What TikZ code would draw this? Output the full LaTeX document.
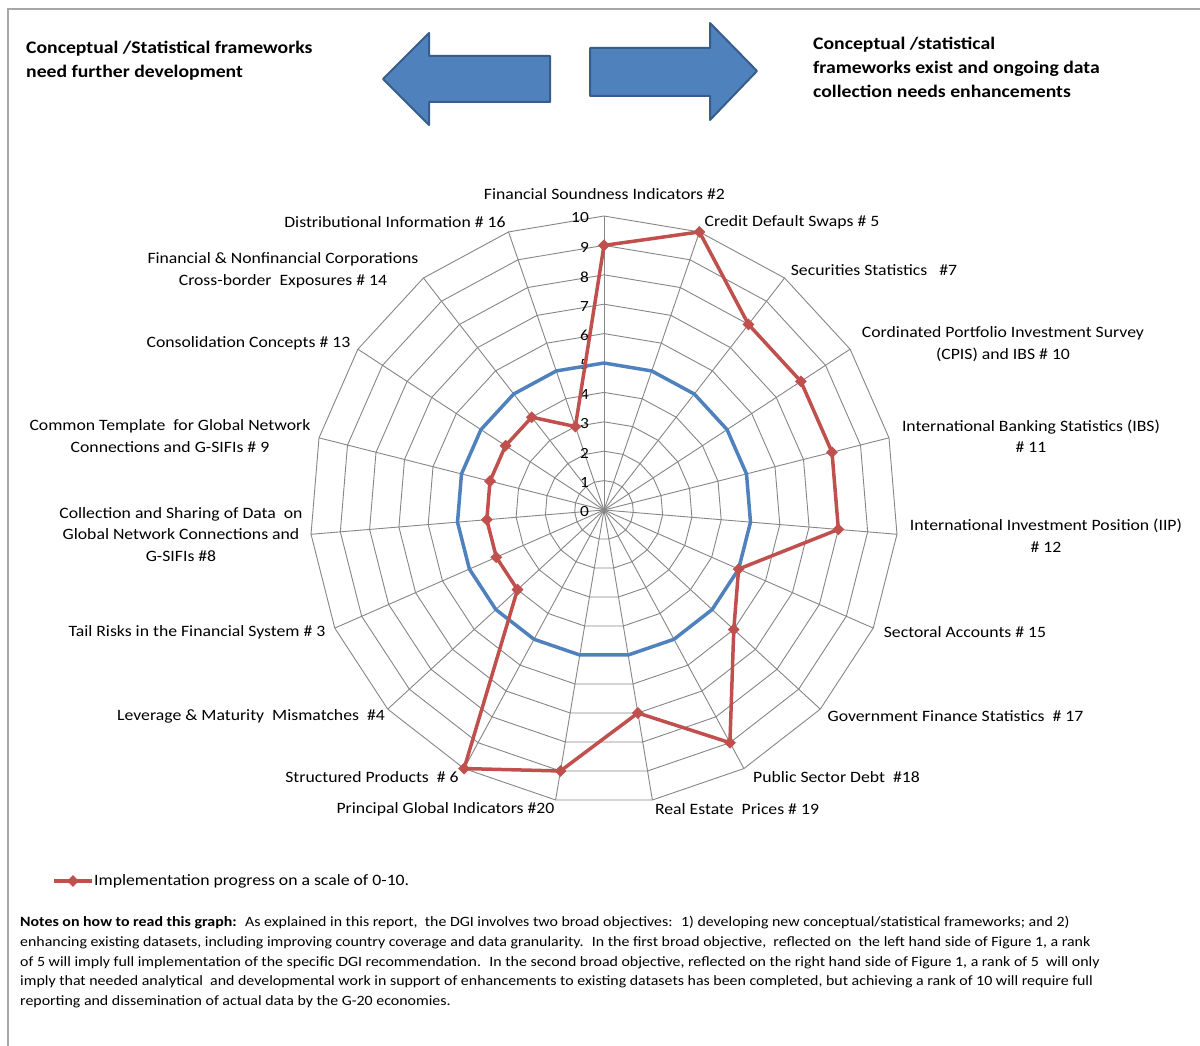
\documentclass[tikz,border=0pt]{standalone}
\usepackage{fontspec}
\setmainfont{Carlito}[FakeStretch=1.12]
\usetikzlibrary{shapes.geometric}
\definecolor{gridgray}{HTML}{868686}
\definecolor{redline}{HTML}{C0504D}
\definecolor{blueline}{HTML}{4F81BD}
\definecolor{arrowfill}{HTML}{4F81BD}
\definecolor{arrowdraw}{HTML}{385D8A}
\definecolor{framegray}{HTML}{A6A6A6}
\begin{document}
\begin{tikzpicture}[x=1pt,y=-1pt,
  gridline/.style={draw=gridgray, line width=0.9pt},
  redplot/.style={draw=redline, line width=3.5pt, line join=round},
  blueplot/.style={draw=blueline, line width=3.5pt, line join=round},
  reddia/.style={diamond, fill=redline, draw=none, inner sep=0pt, minimum size=12pt},
  lbl/.style={font=\fontsize{15.8}{21.5}\selectfont, align=center, inner sep=0pt},
  ticklbl/.style={font=\fontsize{15.5}{18}\selectfont, anchor=east, inner sep=0pt},
  titletxt/.style={font=\fontsize{17.6}{24}\selectfont\bfseries, align=left, inner sep=0pt, anchor=north west},
  notetxt/.style={font=\fontsize{14.2}{19.8}\selectfont, align=left, inner sep=0pt, anchor=north west},
  bigarrow/.style={draw=arrowdraw, fill=arrowfill, line width=2pt, line join=round}]
\useasboundingbox (0,0) rectangle (1200,1046);
\fill[white] (0,0) rectangle (1200,1046);
% frame
\draw[framegray, line width=1.5pt] (1200,9) -- (8,9) -- (8,1046);
% block arrows
\draw[bigarrow] (383,79) -- (429,33) -- (429,56) -- (550,56) -- (550,102) -- (429,102) -- (429,125) -- cycle;
\draw[bigarrow] (757,71) -- (710,23) -- (710,48) -- (590,48) -- (590,96) -- (710,96) -- (710,120) -- cycle;
% titles
\node[titletxt] (tleft) at (26,41) {Conceptual /Statistical frameworks\\need further development};
\node[titletxt] (tright) at (813,37) {Conceptual /statistical\\frameworks  exist and ongoing data\\collection needs enhancements};
% radar grid
\def\cx{604}\def\cy{510}\def\un{29.4}
\coordinate (c) at (\cx,\cy);
\foreach \i in {0,...,18}{
  \coordinate (o\i) at ({\cx+10*\un*cos(90-\i*360/19)},{\cy-10*\un*sin(90-\i*360/19)});
}
\foreach \k in {1,...,10}{
  \draw[gridline] ({\cx},{\cy-\k*\un}) \foreach \i in {1,...,18}{ -- ({\cx+\k*\un*cos(90-\i*360/19)},{\cy-\k*\un*sin(90-\i*360/19)}) } -- cycle;
}
\foreach \i in {0,...,18}{ \draw[gridline] (c) -- (o\i); }
% tick labels
\foreach \k in {0,...,10}{
  \node[ticklbl] (tk\k) at (589,{\cy-\k*\un+2}) {\k};
}
% blue series (all 5)
\foreach \i in {0,...,18}{
  \coordinate (b\i) at ({\cx+5*\un*cos(90-\i*360/19)},{\cy-5*\un*sin(90-\i*360/19)});
}
\draw[blueplot] (b0) \foreach \i in {1,...,18}{ -- (b\i) } -- cycle;
% red series
\foreach \v [count=\j from 0] in {9,10,8,8,8,8,5,6,9,7,9,10,4,4,4,4,4,4,3}{
  \coordinate (r\j) at ({\cx+\v*\un*cos(90-\j*360/19)},{\cy-\v*\un*sin(90-\j*360/19)});
}
\draw[redplot] (r0) \foreach \j in {1,...,18}{ -- (r\j) } -- cycle;
\foreach \j in {0,...,18}{ \node[reddia] (m\j) at (r\j) {}; }
% category labels
\node[lbl] (l0) at (604.5,194) {Financial Soundness Indicators \#2};
\node[lbl] (l1) at (792,222) {Credit Default Swaps \# 5};
\node[lbl] (l2) at (874,270) {Securities Statistics \ \ \#7};
\node[lbl] (l3) at (1003,344) {Cordinated Portfolio Investment Survey\\(CPIS) and IBS \# 10};
\node[lbl] (l4) at (1031,436) {International Banking Statistics (IBS)\\\# 11};
\node[lbl] (l5) at (1046,535.5) {International Investment Position (IIP)\\\# 12};
\node[lbl] (l6) at (965,632) {Sectoral Accounts \# 15};
\node[lbl] (l7) at (955.5,716) {Government Finance Statistics \ \# 17};
\node[lbl] (l8) at (836.5,777) {Public Sector Debt \ \#18};
\node[lbl] (l9) at (737,809) {Real Estate \ Prices \# 19};
\node[lbl] (l10) at (445.5,809) {Principal Global Indicators \#20};
\node[lbl] (l11) at (372,777) {Structured Products \ \# 6};
\node[lbl] (l12) at (251,716) {Leverage \& Maturity \ Mismatches \ \#4};
\node[lbl] (l13) at (197,632) {Tail Risks in the Financial System \# 3};
\node[lbl] (l14) at (181,534.5) {Collection and Sharing of Data \ on\\Global Network Connections and\\G-SIFIs \#8};
\node[lbl] (l15) at (170,436) {Common Template \ for Global Network\\Connections and G-SIFIs \# 9};
\node[lbl] (l16) at (248.5,343) {Consolidation Concepts \# 13};
\node[lbl] (l17) at (283,270.5) {Financial \& Nonfinancial Corporations\\Cross-border \ Exposures \# 14};
\node[lbl] (l18) at (395,222) {Distributional Information \# 16};
% legend
\coordinate (legA) at (54,881);
\coordinate (legB) at (92,881);
\draw[redplot] (legA) -- (legB);
\node[reddia] (legM) at (73,881) {};
\node[lbl, anchor=west] (legT) at (94,881) {Implementation progress on a scale of 0-10.};
% notes
\node[notetxt] (notes) at (20,916) {\textbf{Notes on how to read this graph:} \ As explained in this report, \ the DGI involves two broad objectives: \ 1) developing new conceptual/statistical frameworks; and 2)\\
enhancing existing datasets, including improving country coverage and data granularity. \ In the first broad objective, \ reflected on \ the left hand side of Figure 1, a rank\\
of 5 will imply full implementation of the specific DGI recommendation. \ In the second broad objective, reflected on the right hand side of Figure 1, a rank of 5 \ will only\\
imply that needed analytical \ and developmental work in support of enhancements to existing datasets has been completed, but achieving a rank of 10 will require full\\
reporting and dissemination of actual data by the G-20 economies.};
\end{tikzpicture}
\end{document}
